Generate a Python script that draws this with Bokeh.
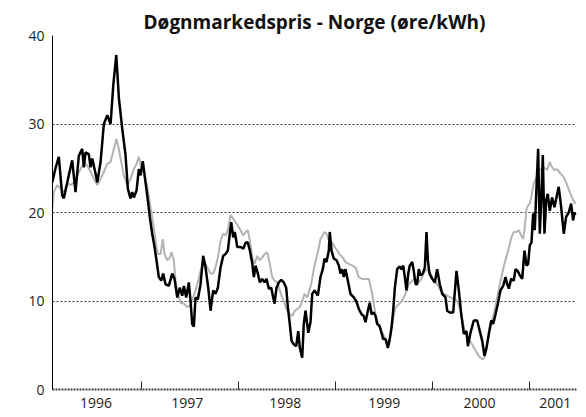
from bokeh.plotting import figure
from bokeh.models import Range1d, FixedTicker
from bokeh.embed import file_html
from bokeh.resources import INLINE

# ---------------- data (decimal year, øre/kWh) ----------------
price_x = [1996.080, 1996.114, 1996.148, 1996.183, 1996.200, 1996.251, 1996.286, 1996.320, 1996.354, 1996.389,
           1996.406, 1996.423, 1996.457, 1996.475, 1996.492, 1996.526, 1996.544, 1996.578, 1996.612, 1996.647,
           1996.681, 1996.709, 1996.740, 1996.767, 1996.801, 1996.835, 1996.859, 1996.886, 1996.904, 1996.921,
           1996.949, 1996.972, 1996.990, 1997.013, 1997.041, 1997.065, 1997.085, 1997.110, 1997.134, 1997.154,
           1997.178, 1997.203, 1997.223, 1997.247, 1997.281, 1997.316, 1997.340, 1997.368, 1997.394, 1997.419,
           1997.436, 1997.460, 1997.487, 1997.505, 1997.522, 1997.539, 1997.556, 1997.580, 1997.608, 1997.635,
           1997.659, 1997.687, 1997.711, 1997.738, 1997.762, 1997.786, 1997.814, 1997.841, 1997.865, 1997.889,
           1997.909, 1997.924, 1997.944, 1997.961, 1997.986, 1998.020, 1998.048, 1998.072, 1998.095, 1998.116,
           1998.141, 1998.157, 1998.175, 1998.198, 1998.219, 1998.243, 1998.267, 1998.287, 1998.311, 1998.336,
           1998.356, 1998.370, 1998.390, 1998.414, 1998.439, 1998.465, 1998.490, 1998.507, 1998.527, 1998.545,
           1998.568, 1998.593, 1998.614, 1998.630, 1998.655, 1998.671, 1998.689, 1998.717, 1998.740, 1998.758,
           1998.782, 1998.816, 1998.843, 1998.867, 1998.885, 1998.905, 1998.929, 1998.939, 1998.957, 1998.980,
           1999.008, 1999.032, 1999.049, 1999.067, 1999.083, 1999.101, 1999.129, 1999.152, 1999.186, 1999.211,
           1999.238, 1999.266, 1999.289, 1999.307, 1999.331, 1999.351, 1999.369, 1999.392, 1999.410, 1999.427,
           1999.451, 1999.472, 1999.489, 1999.513, 1999.537, 1999.554, 1999.575, 1999.592, 1999.609, 1999.633,
           1999.657, 1999.678, 1999.695, 1999.712, 1999.729, 1999.747, 1999.763, 1999.788, 1999.804, 1999.822,
           1999.839, 1999.856, 1999.873, 1999.897, 1999.918, 1999.935, 1999.949, 1999.966, 1999.994, 2000.021,
           2000.045, 2000.072, 2000.097, 2000.131, 2000.148, 2000.175, 2000.210, 2000.244, 2000.268, 2000.293,
           2000.319, 2000.347, 2000.361, 2000.388, 2000.422, 2000.457, 2000.484, 2000.509, 2000.532, 2000.553,
           2000.577, 2000.602, 2000.622, 2000.646, 2000.670, 2000.697, 2000.725, 2000.749, 2000.766, 2000.783,
           2000.807, 2000.834, 2000.852, 2000.875, 2000.896, 2000.921, 2000.944, 2000.965, 2000.982, 2000.999,
           2001.016, 2001.034, 2001.050, 2001.068, 2001.085, 2001.102, 2001.119, 2001.133, 2001.150, 2001.168,
           2001.184, 2001.205, 2001.229, 2001.253, 2001.281, 2001.297, 2001.322, 2001.349, 2001.373, 2001.400,
           2001.425, 2001.445, 2001.459, 2001.472]
price_y = [23.4, 25.0, 26.3, 21.9, 21.6, 24.2, 25.9, 22.3, 26.4, 27.2,
           25.1, 26.8, 26.6, 25.1, 26.1, 24.4, 23.4, 25.7, 30.0, 31.0,
           30.0, 34.4, 37.8, 32.9, 29.5, 26.5, 22.7, 21.6, 22.3, 21.7,
           22.5, 24.9, 24.2, 25.8, 23.4, 21.4, 19.5, 17.6, 16.1, 14.6,
           12.7, 12.3, 13.1, 11.9, 11.7, 13.1, 12.5, 10.4, 11.5, 10.6,
           11.7, 10.4, 12.1, 10.0, 7.4, 7.1, 10.4, 10.2, 11.9, 15.1,
           13.8, 11.5, 8.9, 11.2, 10.8, 11.5, 13.8, 15.1, 15.3, 15.7,
           17.6, 18.9, 17.2, 17.8, 16.1, 16.1, 15.9, 16.6, 16.6, 15.7,
           14.2, 12.7, 14.0, 13.1, 12.1, 12.5, 12.1, 12.5, 11.4, 11.5,
           10.4, 9.7, 11.5, 12.1, 12.4, 12.1, 11.5, 9.3, 7.4, 5.5,
           5.1, 4.9, 6.6, 4.7, 3.6, 7.4, 8.9, 6.4, 7.6, 10.8,
           11.2, 10.6, 12.7, 13.6, 14.8, 14.4, 15.7, 17.8, 15.7, 14.8,
           14.6, 14.0, 13.1, 13.6, 12.7, 13.6, 12.1, 10.8, 10.4, 10.0,
           9.1, 8.5, 8.3, 7.6, 8.9, 9.8, 8.5, 8.7, 8.3, 7.4,
           7.2, 6.4, 5.7, 5.7, 4.7, 5.5, 7.0, 8.9, 11.5, 13.6,
           13.9, 13.6, 14.0, 12.7, 11.2, 13.1, 14.0, 14.4, 13.4, 11.9,
           11.9, 13.6, 12.9, 13.1, 13.8, 17.8, 14.6, 13.1, 12.5, 12.1,
           13.6, 11.9, 10.8, 10.4, 8.9, 8.7, 8.7, 13.4, 11.2, 8.5,
           6.3, 6.6, 4.9, 6.4, 7.8, 7.8, 6.6, 5.5, 3.8, 4.7,
           6.3, 7.8, 7.4, 8.5, 9.7, 11.2, 11.7, 12.7, 11.9, 11.4,
           12.5, 12.3, 13.6, 13.4, 12.9, 12.5, 15.7, 14.0, 14.2, 16.3,
           16.6, 19.9, 18.0, 22.9, 27.2, 17.6, 22.1, 26.5, 17.6, 21.4,
           22.1, 20.2, 21.7, 20.6, 22.1, 22.9, 20.6, 17.6, 19.5, 20.0,
           21.0, 19.1, 20.0, 19.7]

ref_x = [1996.080, 1996.097, 1996.132, 1996.166, 1996.200, 1996.235, 1996.269, 1996.303, 1996.338, 1996.372,
         1996.406, 1996.441, 1996.475, 1996.509, 1996.544, 1996.578, 1996.612, 1996.647, 1996.681, 1996.715,
         1996.742, 1996.766, 1996.791, 1996.818, 1996.853, 1996.887, 1996.921, 1996.949, 1996.972, 1996.997,
         1997.024, 1997.059, 1997.093, 1997.120, 1997.144, 1997.168, 1997.196, 1997.219, 1997.237, 1997.265,
         1997.291, 1997.309, 1997.333, 1997.350, 1997.374, 1997.402, 1997.436, 1997.471, 1997.505, 1997.532,
         1997.556, 1997.580, 1997.608, 1997.642, 1997.677, 1997.711, 1997.738, 1997.762, 1997.786, 1997.814,
         1997.841, 1997.865, 1997.889, 1997.917, 1997.944, 1997.968, 1997.992, 1998.020, 1998.048, 1998.072,
         1998.095, 1998.116, 1998.141, 1998.164, 1998.192, 1998.216, 1998.243, 1998.267, 1998.295, 1998.321,
         1998.346, 1998.370, 1998.398, 1998.424, 1998.449, 1998.473, 1998.501, 1998.527, 1998.552, 1998.579,
         1998.604, 1998.630, 1998.655, 1998.679, 1998.707, 1998.730, 1998.751, 1998.774, 1998.799, 1998.820,
         1998.843, 1998.861, 1998.885, 1998.905, 1998.923, 1998.946, 1998.970, 1998.991, 1999.015, 1999.039,
         1999.073, 1999.101, 1999.135, 1999.170, 1999.204, 1999.238, 1999.273, 1999.307, 1999.341, 1999.369,
         1999.392, 1999.410, 1999.438, 1999.461, 1999.495, 1999.530, 1999.554, 1999.582, 1999.609, 1999.633,
         1999.667, 1999.701, 1999.726, 1999.753, 1999.788, 1999.822, 1999.856, 1999.884, 1999.907, 1999.942,
         1999.976, 2000.010, 2000.045, 2000.079, 2000.113, 2000.148, 2000.182, 2000.216, 2000.251, 2000.285,
         2000.313, 2000.336, 2000.370, 2000.405, 2000.439, 2000.473, 2000.509, 2000.532, 2000.560, 2000.587,
         2000.611, 2000.635, 2000.663, 2000.690, 2000.715, 2000.738, 2000.766, 2000.790, 2000.810, 2000.834,
         2000.862, 2000.886, 2000.910, 2000.931, 2000.947, 2000.965, 2000.982, 2000.999, 2001.013, 2001.040,
         2001.068, 2001.102, 2001.143, 2001.178, 2001.205, 2001.229, 2001.253, 2001.281, 2001.315, 2001.349,
         2001.384, 2001.418, 2001.446, 2001.470]
ref_y = [20.4, 22.3, 23.1, 22.7, 22.3, 23.3, 23.1, 23.4, 24.2, 24.9,
         25.7, 25.3, 24.6, 23.8, 23.1, 23.8, 24.6, 25.5, 25.7, 27.2,
         28.3, 27.2, 25.7, 24.2, 23.1, 23.8, 24.9, 25.5, 26.3, 25.1,
         24.6, 22.9, 20.6, 18.7, 16.8, 15.3, 15.3, 17.0, 15.3, 14.6,
         14.9, 15.5, 14.6, 12.3, 10.8, 9.8, 9.7, 9.3, 9.5, 10.4,
         11.2, 12.1, 13.4, 14.6, 13.8, 13.1, 13.1, 13.8, 14.9, 16.8,
         17.6, 17.4, 18.0, 19.7, 19.3, 18.9, 18.5, 18.0, 17.4, 17.8,
         18.0, 16.8, 14.9, 14.2, 15.1, 14.6, 14.9, 15.3, 15.5, 14.2,
         12.7, 12.3, 12.1, 11.2, 10.4, 9.7, 8.9, 8.5, 8.3, 8.9,
         9.1, 9.3, 10.0, 10.8, 10.4, 11.2, 12.1, 13.6, 14.8, 15.7,
         17.0, 17.3, 17.8, 17.6, 17.0, 16.8, 16.5, 16.1, 15.7, 15.3,
         14.9, 14.4, 14.2, 14.0, 13.8, 12.7, 12.5, 12.5, 12.5, 11.2,
         9.7, 8.5, 7.4, 6.8, 6.1, 5.3, 5.7, 7.4, 9.1, 9.5,
         9.8, 10.4, 11.0, 11.9, 12.3, 12.5, 12.1, 12.5, 13.2, 13.6,
         13.1, 12.3, 11.9, 11.2, 10.8, 10.6, 10.4, 10.2, 10.0, 8.9,
         7.4, 6.3, 5.7, 5.1, 4.4, 3.8, 3.4, 3.6, 5.1, 6.6,
         7.8, 8.9, 10.4, 11.9, 13.1, 14.2, 15.3, 16.3, 17.2, 17.8,
         17.8, 18.0, 17.4, 17.0, 18.3, 20.4, 20.8, 21.0, 21.7, 23.3,
         24.0, 24.8, 25.1, 24.8, 25.7, 25.1, 24.8, 24.9, 24.4, 24.0,
         23.1, 22.1, 21.4, 21.0]

year_bounds = [1997, 1998, 1999, 2000, 2001]
year_label_pos = [1996.53, 1997.47, 1998.48, 1999.50, 2000.48, 2001.26]
year_labels = ["1996", "1997", "1998", "1999", "2000", "2001"]
y_ticks = [0, 10, 20, 30, 40]
grid_ticks = [10, 20, 30, 40]

FONT = "Open Sans"

p = figure(width=586, height=417, output_backend="svg", toolbar_location=None,
           x_range=Range1d(1996.083, 2001.48), y_range=Range1d(0, 40),
           min_border_left=52, min_border_right=10, min_border_top=35, min_border_bottom=28,
           title="Døgnmarkedspris - Norge (øre/kWh)")
p.outline_line_color = None
p.background_fill_color = "white"
p.border_fill_color = "white"

p.title.align = "center"
p.title.text_font = FONT
p.title.text_font_size = "19px"
p.title.text_font_style = "bold"
p.title.text_color = "#111111"
p.title.standoff = 2

# grid
p.xgrid.visible = False
p.ygrid.ticker = FixedTicker(ticks=grid_ticks)
p.ygrid.grid_line_color = "#333333"
p.ygrid.grid_line_dash = "2 2"
p.ygrid.grid_line_width = 1

# y axis
p.yaxis.ticker = FixedTicker(ticks=y_ticks)
p.yaxis.major_tick_in = 0
p.yaxis.major_tick_out = 0
p.yaxis.minor_tick_line_color = None
p.yaxis.axis_line_color = "black"
p.yaxis.axis_line_width = 1
p.yaxis.major_label_standoff = 8
p.yaxis.major_label_text_font = FONT
p.yaxis.major_label_text_font_size = "14px"
p.yaxis.major_label_text_color = "#222222"

# x axis: year names centred in each year (major, no mark), marks at year boundaries (minor)
p.xaxis.ticker = FixedTicker(ticks=year_label_pos, minor_ticks=year_bounds)
p.xaxis.major_label_overrides = {pos: lab for pos, lab in zip(year_label_pos, year_labels)}
p.xaxis.major_tick_in = 0
p.xaxis.major_tick_out = 0
p.xaxis.major_tick_line_color = None
p.xaxis.minor_tick_in = 8
p.xaxis.minor_tick_out = 0
p.xaxis.minor_tick_line_color = "#222222"
p.xaxis.minor_tick_line_width = 1
p.xaxis.axis_line_color = "#444444"
p.xaxis.axis_line_dash = "2 1"
p.xaxis.axis_line_width = 2
p.xaxis.major_label_standoff = 8
p.xaxis.major_label_text_font = FONT
p.xaxis.major_label_text_font_size = "14px"
p.xaxis.major_label_text_color = "#222222"

# series
p.line(ref_x, ref_y, line_color="#b3b3b3", line_width=2)
p.line(price_x, price_y, line_color="black", line_width=2.5)

open("out.html", "w").write(file_html(p, INLINE))
